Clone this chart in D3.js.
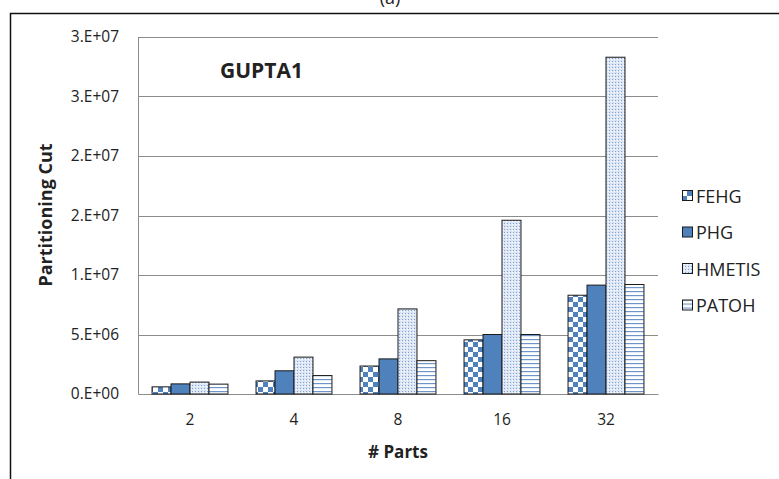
<!DOCTYPE html>
<html>
<head>
<meta charset="utf-8">
<script src="https://cdn.jsdelivr.net/npm/d3@7"></script>
<style>
  body { margin: 0; background: #fff; }
  text { font-family: "Open Sans", "Noto Sans", sans-serif; fill: #222; }
</style>
</head>
<body>
<div id="chart"></div>
<script>
// chart data
var parts = ["2", "4", "8", "16", "32"];
var seriesNames = ["FEHG", "PHG", "HMETIS", "PATOH"];
var fehg   = [0.6e6, 1.1e6, 2.35e6, 4.55e6, 8.3e6];
var phg    = [0.85e6, 1.95e6, 2.95e6, 5.0e6, 9.15e6];
var hmetis = [1.0e6, 3.1e6, 7.15e6, 14.6e6, 28.3e6];
var patoh  = [0.83e6, 1.55e6, 2.8e6, 5.0e6, 9.2e6];
var yTicks = [0, 5e6, 1e7, 1.5e7, 2e7, 2.5e7, 3e7];
var yTickLabels = ["0.E+00", "5.E+06", "1.E+07", "2.E+07", "2.E+07", "3.E+07", "3.E+07"];

var svgWidth = 779, svgHeight = 479;
var margin = { top: 37, right: 121, bottom: 85, left: 138 };
var width = svgWidth - margin.left - margin.right;
var height = svgHeight - margin.top - margin.bottom;

var svg = d3.select("#chart").append("svg")
  .attr("width", svgWidth)
  .attr("height", svgHeight);

// patterns for the bar fills
var defs = svg.append("defs");
var blue = "#4f81bd";

var checker = defs.append("pattern").attr("id", "pat-fehg")
  .attr("patternUnits", "userSpaceOnUse").attr("width", 10).attr("height", 10);
checker.append("rect").attr("width", 10).attr("height", 10).attr("fill", "#fff");
checker.append("rect").attr("width", 5).attr("height", 5).attr("fill", blue);
checker.append("rect").attr("x", 5).attr("y", 5).attr("width", 5).attr("height", 5).attr("fill", blue);

var dots = defs.append("pattern").attr("id", "pat-hmetis")
  .attr("patternUnits", "userSpaceOnUse").attr("width", 3).attr("height", 3);
dots.append("rect").attr("width", 3).attr("height", 3).attr("fill", "#dce6f4");
dots.append("rect").attr("width", 1).attr("height", 1).attr("fill", "#7fa2d2");
dots.append("rect").attr("x", 2).attr("y", 1).attr("width", 1).attr("height", 1).attr("fill", "#ffffff");

var lines = defs.append("pattern").attr("id", "pat-patoh")
  .attr("patternUnits", "userSpaceOnUse").attr("width", 4).attr("height", 4);
lines.append("rect").attr("width", 4).attr("height", 4).attr("fill", "#fff");
lines.append("rect").attr("y", 2).attr("width", 4).attr("height", 1.2).attr("fill", "#6f96cb");

var fills = ["url(#pat-fehg)", blue, "url(#pat-hmetis)", "url(#pat-patoh)"];

// outer frame and cropped caption
svg.append("path")
  .attr("d", "M10.5," + svgHeight + " V13.5 H" + svgWidth)
  .attr("fill", "none").attr("stroke", "#111").attr("stroke-width", 1.5);
svg.append("text")
  .attr("x", 390).attr("y", 4)
  .attr("text-anchor", "middle")
  .style("font-size", "18px")
  .text("(a)");

var chartGroup = svg.append("g")
  .attr("transform", `translate(${margin.left}, ${margin.top})`);

var xScale = d3.scaleBand().domain(parts).range([0, width]).paddingInner(0).paddingOuter(0);
var xInner = d3.scaleBand().domain(seriesNames)
  .range([xScale.bandwidth() * 0.135, xScale.bandwidth() * 0.865]);
var yScale = d3.scaleLinear().domain([0, 3e7]).range([height, 0]);

// gridlines
chartGroup.selectAll(".grid")
  .data(yTicks.slice(1))
  .enter()
  .append("line")
  .attr("x1", 0).attr("x2", width)
  .attr("y1", d => Math.round(yScale(d)) + 0.5)
  .attr("y2", d => Math.round(yScale(d)) + 0.5)
  .attr("stroke", "#8c8c8c").attr("stroke-width", 1);

// y axis
var leftAxis = d3.axisLeft(yScale)
  .tickValues(yTicks)
  .tickSize(0)
  .tickPadding(19)
  .tickFormat((d, i) => yTickLabels[i]);
var yAxis = chartGroup.append("g").call(leftAxis);
yAxis.select(".domain").attr("stroke", "#8c8c8c");
yAxis.selectAll("text").style("font-size", "15.5px").attr("fill", "#222");

// x axis
var bottomAxis = d3.axisBottom(xScale).tickSize(0).tickPadding(20);
var xAxis = chartGroup.append("g")
  .attr("transform", `translate(0, ${height})`)
  .call(bottomAxis);
xAxis.select(".domain").attr("stroke", "#8c8c8c");
xAxis.selectAll("text").style("font-size", "15.5px").attr("fill", "#222");

// bars
var allSeries = [fehg, phg, hmetis, patoh];
allSeries.forEach(function(values, s) {
  chartGroup.selectAll(".bar" + s)
    .data(values)
    .enter()
    .append("rect")
    .attr("x", (d, i) => xScale(parts[i]) + xInner(seriesNames[s]))
    .attr("y", d => yScale(d))
    .attr("width", xInner.bandwidth())
    .attr("height", d => height - yScale(d))
    .attr("fill", fills[s])
    .attr("stroke", "#1a1a1a")
    .attr("stroke-width", 1);
});

// chart title
chartGroup.append("text")
  .attr("x", 82).attr("y", 41)
  .style("font-size", "21px")
  .style("font-weight", "bold")
  .text("GUPTA1");

// axis titles
svg.append("text")
  .attr("transform", "translate(52, 215) rotate(-90)")
  .attr("text-anchor", "middle")
  .style("font-size", "18px")
  .style("font-weight", "bold")
  .text("Partitioning  Cut");

svg.append("text")
  .attr("x", 398).attr("y", 458)
  .attr("text-anchor", "middle")
  .style("font-size", "17px")
  .style("font-weight", "bold")
  .text("# Parts");

// legend
var legend = svg.append("g").attr("transform", "translate(682, 196)");
seriesNames.forEach(function(name, i) {
  var item = legend.append("g").attr("transform", `translate(0, ${i * 36.5})`);
  item.append("rect")
    .attr("x", 0.5).attr("y", -5.5)
    .attr("width", 10).attr("height", 10)
    .attr("fill", fills[i])
    .attr("stroke", "#1a1a1a");
  item.append("text")
    .attr("x", 14).attr("y", 6.5)
    .style("font-size", "18px")
    .text(name);
});
</script>
</body>
</html>
